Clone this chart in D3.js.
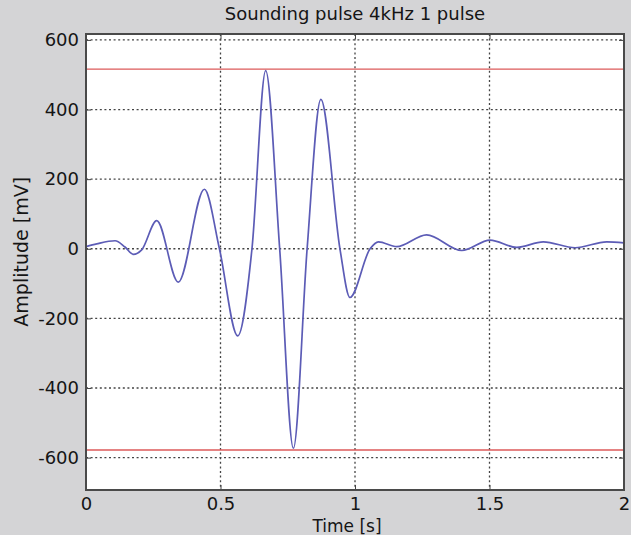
<!DOCTYPE html>
<html>
<head>
<meta charset="utf-8">
<script src="https://d3js.org/d3.v7.min.js"></script>
<style>
body { margin: 0; background: #d4d4d6; }
svg { display: block; }
.tick text { font-family: "DejaVu Sans", sans-serif; font-size: 18px; fill: #151515; }
.tick line { stroke: #444; }
.label { font-family: "DejaVu Sans", sans-serif; font-size: 18px; fill: #151515; }
</style>
</head>
<body>
<div id="chart"></div>
<script>
// time [s] and amplitude [mV]
var timeValues = [0, 0.04, 0.108, 0.145, 0.176, 0.207, 0.263, 0.343, 0.44, 0.496, 0.564, 0.617,
    0.668, 0.72, 0.771, 0.822, 0.873, 0.944, 0.981, 1.056, 1.087, 1.155, 1.266, 1.397,
    1.502, 1.601, 1.7, 1.818, 1.936, 2];
var amplitudeValues = [6, 14, 23, 5, -16, -3, 81, -96, 171, 0, -250, 0,
    512, 0, -573, 0, 429, 0, -140, 0, 20, 6, 40, -5,
    25, 4, 20, 3, 20, 17];
var limitValues = [516, -578];
var xTicks = [0, 0.5, 1, 1.5, 2];
var yTicks = [-600, -400, -200, 0, 200, 400, 600];

var width = 631, height = 535;
var plotLeft = 86, plotRight = 624, plotTop = 34, plotBottom = 490;

var svg = d3.select("#chart").append("svg")
    .attr("width", width)
    .attr("height", height);

var x = d3.scaleLinear().domain([0, 2]).range([plotLeft, plotRight]);
var y = d3.scaleLinear().domain([-693, 617]).range([plotBottom, plotTop]);

// plot area
svg.append("rect")
    .attr("x", plotLeft).attr("y", plotTop)
    .attr("width", plotRight - plotLeft).attr("height", plotBottom - plotTop)
    .attr("fill", "white");

// dotted grid
svg.append("g").selectAll("line")
    .data(xTicks.filter(function (d) { return d > 0 && d < 2; }))
    .enter().append("line")
    .attr("x1", function (d) { return x(d); }).attr("x2", function (d) { return x(d); })
    .attr("y1", plotTop).attr("y2", plotBottom)
    .attr("stroke", "#444").attr("stroke-width", 1.3)
    .attr("stroke-dasharray", "2,2.6");

svg.append("g").selectAll("line")
    .data(yTicks)
    .enter().append("line")
    .attr("x1", plotLeft).attr("x2", plotRight)
    .attr("y1", function (d) { return y(d); }).attr("y2", function (d) { return y(d); })
    .attr("stroke", "#444").attr("stroke-width", 1.3)
    .attr("stroke-dasharray", "2,2.6");

// limit lines
svg.append("g").selectAll("line")
    .data(limitValues)
    .enter().append("line")
    .attr("x1", plotLeft).attr("x2", plotRight)
    .attr("y1", function (d) { return y(d); }).attr("y2", function (d) { return y(d); })
    .attr("stroke", "#dc5a5a").attr("stroke-width", 1.4);

// signal
var data = timeValues.map(function (t, i) { return { t: t, v: amplitudeValues[i] }; });
var line = d3.line()
    .x(function (d) { return x(d.t); })
    .y(function (d) { return y(d.v); })
    .curve(d3.curveMonotoneX);

svg.append("path")
    .datum(data)
    .attr("d", line)
    .attr("fill", "none")
    .attr("stroke", "#5c5cb6")
    .attr("stroke-width", 1.7);

// axes with inward ticks
var fmt = function (d) { return String(d); };
svg.append("g")
    .attr("transform", "translate(0," + plotBottom + ")")
    .call(d3.axisBottom(x).tickValues(xTicks).tickSize(-5).tickPadding(7).tickFormat(fmt))
    .call(function (g) { g.select(".domain").remove(); });
svg.append("g")
    .attr("transform", "translate(0," + plotTop + ")")
    .call(d3.axisTop(x).tickValues(xTicks).tickSize(-5).tickFormat(""))
    .call(function (g) { g.select(".domain").remove(); });
svg.append("g")
    .attr("transform", "translate(" + plotLeft + ",0)")
    .call(d3.axisLeft(y).tickValues(yTicks).tickSize(-5).tickPadding(7).tickFormat(fmt))
    .call(function (g) { g.select(".domain").remove(); });
svg.append("g")
    .attr("transform", "translate(" + plotRight + ",0)")
    .call(d3.axisRight(y).tickValues(yTicks).tickSize(-5).tickFormat(""))
    .call(function (g) { g.select(".domain").remove(); });

// frame
svg.append("rect")
    .attr("x", plotLeft).attr("y", plotTop)
    .attr("width", plotRight - plotLeft).attr("height", plotBottom - plotTop)
    .attr("fill", "none")
    .attr("stroke", "#4a4a4a").attr("stroke-width", 2);

// texts
svg.append("text").attr("class", "label")
    .attr("x", (plotLeft + plotRight) / 2).attr("y", 20)
    .attr("text-anchor", "middle")
    .text("Sounding pulse 4kHz 1 pulse");
svg.append("text").attr("class", "label")
    .style("font-size", "17px")
    .attr("x", (plotLeft + plotRight) / 2 - 8).attr("y", 532)
    .attr("text-anchor", "middle")
    .text("Time [s]");
svg.append("text").attr("class", "label")
    .style("font-size", "19px")
    .attr("transform", "translate(28," + (y(0) + 3) + ") rotate(-90)")
    .attr("text-anchor", "middle")
    .text("Amplitude [mV]");
</script>
</body>
</html>
